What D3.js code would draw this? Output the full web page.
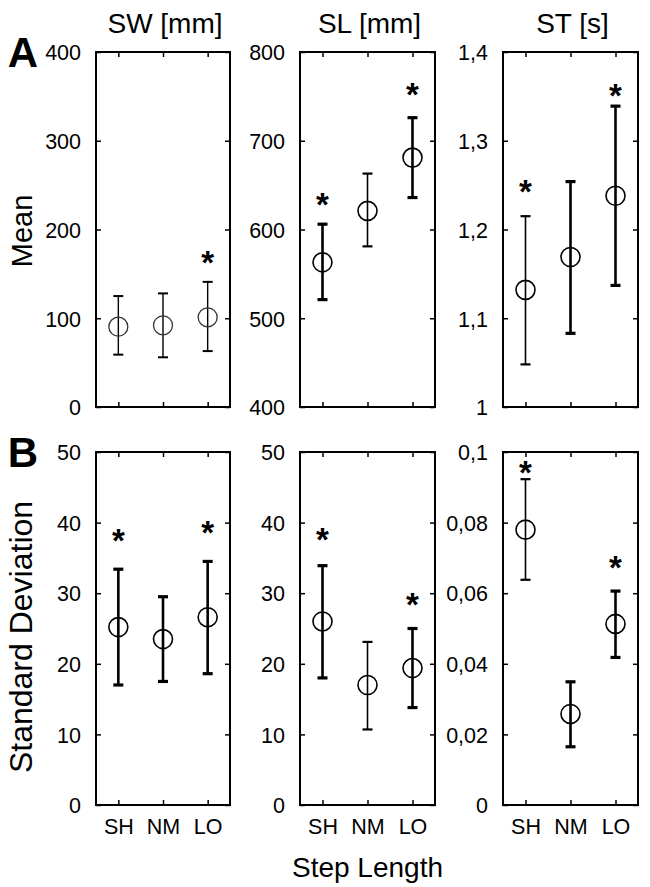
<!DOCTYPE html>
<html>
<head>
<meta charset="utf-8">
<script src="https://cdn.jsdelivr.net/npm/d3@7"></script>
<style>
  html, body { margin: 0; padding: 0; background: #fff; }
  svg { display: block; font-family: "Liberation Sans", Arial, Helvetica, sans-serif; }
</style>
</head>
<body>
<svg id="chart" width="650" height="887"></svg>
<script>
// ---------------- DATA ----------------
const categories = ["SH", "NM", "LO"];
const columnTitles = ["SW [mm]", "SL [mm]", "ST [s]"];
const rowTitles = ["Mean", "Standard Deviation"];
const rowLetters = ["A", "B"];
const xAxisTitle = "Step Length";

// Row A: means
const swMean      = [90.5, 92, 101];
const swMeanLow   = [59, 56, 63];
const swMeanHigh  = [125, 128, 141];
const swMeanStar  = [null, null, 165];

const slMean      = [563, 621, 681];
const slMeanLow   = [521, 581, 636];
const slMeanHigh  = [606, 663, 726];
const slMeanStar  = [631, null, 755];

const stMean      = [1.132, 1.169, 1.238];
const stMeanLow   = [1.048, 1.083, 1.137];
const stMeanHigh  = [1.215, 1.254, 1.339];
const stMeanStar  = [1.245, null, 1.354];

// Row B: standard deviations
const swSd        = [25.2, 23.5, 26.6];
const swSdLow     = [17.0, 17.5, 18.6];
const swSdHigh    = [33.4, 29.5, 34.5];
const swSdStar    = [37.8, null, 38.9];

const slSd        = [26.0, 17.0, 19.4];
const slSdLow     = [18.0, 10.7, 13.8];
const slSdHigh    = [33.9, 23.1, 25.0];
const slSdStar    = [38.0, null, 28.8];

const stSd        = [0.078, 0.0258, 0.0513];
const stSdLow     = [0.0638, 0.0165, 0.0418];
const stSdHigh    = [0.0923, 0.0349, 0.0606];
const stSdStar    = [0.0949, null, 0.068];

// y domains and ticks
const swMeanTicks = [0, 100, 200, 300, 400];
const slMeanTicks = [400, 500, 600, 700, 800];
const stMeanTicks = [1, 1.1, 1.2, 1.3, 1.4];
const swSdTicks   = [0, 10, 20, 30, 40, 50];
const slSdTicks   = [0, 10, 20, 30, 40, 50];
const stSdTicks   = [0, 0.02, 0.04, 0.06, 0.08, 0.1];

// ---------------- LAYOUT / STYLE ----------------
const colX = [[96, 230], [300, 435], [503, 638]];
const rowY = [[52, 407], [452, 805]];
const tickLen = 5;
const frameWidth = 2;
const circleR = 9.5;
const capHalf = 5;
const starSize = 33;
const rowTitleSize = [29, 32];
const rowTitleCenter = [231, 637];
// stroke weights of the error bars per panel (visual style)
const barWeight = [
  [[1.4, 1.4, 1.4], [2.6, 1.6, 2.6], [1.6, 2.6, 2.6]],
  [[2.6, 2.6, 2.6], [2.6, 1.6, 2.6], [1.6, 2.6, 2.6]]
];
const circleWeight = [
  [[1.3, 1.3, 1.3], [1.6, 1.6, 1.6], [1.6, 1.6, 1.6]],
  [[1.6, 1.6, 1.6], [1.6, 1.6, 1.6], [1.6, 1.6, 1.6]]
];

const fmtComma = d => String(+d.toFixed(4)).replace(".", ",");

const panels = [
  [
    { v: swMean, lo: swMeanLow, hi: swMeanHigh, star: swMeanStar, ticks: swMeanTicks },
    { v: slMean, lo: slMeanLow, hi: slMeanHigh, star: slMeanStar, ticks: slMeanTicks },
    { v: stMean, lo: stMeanLow, hi: stMeanHigh, star: stMeanStar, ticks: stMeanTicks }
  ],
  [
    { v: swSd, lo: swSdLow, hi: swSdHigh, star: swSdStar, ticks: swSdTicks },
    { v: slSd, lo: slSdLow, hi: slSdHigh, star: slSdStar, ticks: slSdTicks },
    { v: stSd, lo: stSdLow, hi: stSdHigh, star: stSdStar, ticks: stSdTicks }
  ]
];

const svg = d3.select("#chart");
svg.append("rect").attr("width", 650).attr("height", 887).attr("fill", "#fff");

panels.forEach((row, ri) => {
  row.forEach((p, ci) => {
    const [x0, x1] = colX[ci];
    const [yTop, yBot] = rowY[ri];
    const x = d3.scaleLinear().domain([0.5, 3.5]).range([x0, x1]);
    const y = d3.scaleLinear().domain([p.ticks[0], p.ticks[p.ticks.length - 1]]).range([yBot, yTop]);
    const g = svg.append("g");

    const idx = categories.map((c, i) => i + 1);

    // axes with inward ticks
    const yLeft = g.append("g").attr("transform", `translate(${x0},0)`)
      .call(d3.axisLeft(y).tickValues(p.ticks).tickSize(-tickLen).tickPadding(10 + tickLen)
        .tickFormat(fmtComma));
    const yRight = g.append("g").attr("transform", `translate(${x1},0)`)
      .call(d3.axisRight(y).tickValues(p.ticks).tickSize(-tickLen).tickFormat(""));
    const xBottom = g.append("g").attr("transform", `translate(0,${yBot})`)
      .call(d3.axisBottom(x).tickValues(idx).tickSize(-tickLen).tickPadding(14)
        .tickFormat(ri === 1 ? (d => categories[d - 1]) : ""));
    const xTop = g.append("g").attr("transform", `translate(0,${yTop})`)
      .call(d3.axisTop(x).tickValues(idx).tickSize(-tickLen).tickFormat(""));

    [yLeft, yRight, xBottom, xTop].forEach(a => {
      a.select(".domain").remove();
      a.selectAll(".tick line").attr("stroke", "#000").attr("stroke-width", 1.5);
      a.selectAll(".tick text").attr("fill", "#000").style("font-size", "21.5px")
        .style("font-family", "'Liberation Sans', Arial, sans-serif");
    });
    yLeft.selectAll(".tick text").attr("dy", "0.36em");
    xBottom.selectAll(".tick text").attr("dy", "0.71em");

    // frame
    g.append("rect").attr("x", x0).attr("y", yTop)
      .attr("width", x1 - x0).attr("height", yBot - yTop)
      .attr("fill", "none").attr("stroke", "#000").attr("stroke-width", frameWidth);

    const pts = p.v.map((v, i) => ({ i: i + 1, v, lo: p.lo[i], hi: p.hi[i], star: p.star[i],
      bw: barWeight[ri][ci][i], cw: circleWeight[ri][ci][i] }));

    const eb = g.selectAll(".eb").data(pts).enter().append("g")
      .attr("stroke", "#000").attr("fill", "none");
    eb.append("line")
      .attr("x1", d => x(d.i)).attr("x2", d => x(d.i))
      .attr("y1", d => y(d.lo)).attr("y2", d => y(d.hi))
      .attr("stroke-width", d => d.bw);
    eb.append("line")
      .attr("x1", d => x(d.i) - capHalf).attr("x2", d => x(d.i) + capHalf)
      .attr("y1", d => y(d.lo)).attr("y2", d => y(d.lo))
      .attr("stroke-width", d => d.bw + 0.6);
    eb.append("line")
      .attr("x1", d => x(d.i) - capHalf).attr("x2", d => x(d.i) + capHalf)
      .attr("y1", d => y(d.hi)).attr("y2", d => y(d.hi))
      .attr("stroke-width", d => d.bw + 0.6);
    eb.append("circle")
      .attr("cx", d => x(d.i)).attr("cy", d => y(d.v)).attr("r", circleR)
      .attr("stroke-width", d => d.cw)
      .attr("stroke", (d) => (ri === 0 && ci === 0) ? "#333" : "#000");

    g.selectAll(".star").data(pts.filter(d => d.star != null)).enter().append("text")
      .attr("x", d => x(d.i)).attr("y", d => y(d.star) + starSize * 0.42)
      .attr("text-anchor", "middle")
      .style("font-size", starSize + "px").style("font-weight", "bold")
      .text("*");

    // column titles
    if (ri === 0) {
      svg.append("text").attr("x", (x0 + x1) / 2 + 2).attr("y", 33)
        .attr("text-anchor", "middle").style("font-size", "28px")
        .text(columnTitles[ci]);
    }
  });

  // row labels
  const [yTop] = rowY[ri];
  svg.append("text")
    .attr("transform", `translate(32,${rowTitleCenter[ri]}) rotate(-90)`)
    .attr("text-anchor", "middle").style("font-size", rowTitleSize[ri] + "px")
    .text(rowTitles[ri]);
  svg.append("text").attr("x", 23).attr("y", yTop + 15)
    .attr("text-anchor", "middle").style("font-size", "42px").style("font-weight", "bold")
    .text(rowLetters[ri]);
});

svg.append("text").attr("x", (colX[1][0] + colX[1][1]) / 2).attr("y", 877)
  .attr("text-anchor", "middle").style("font-size", "28px").text(xAxisTitle);
</script>
</body>
</html>
